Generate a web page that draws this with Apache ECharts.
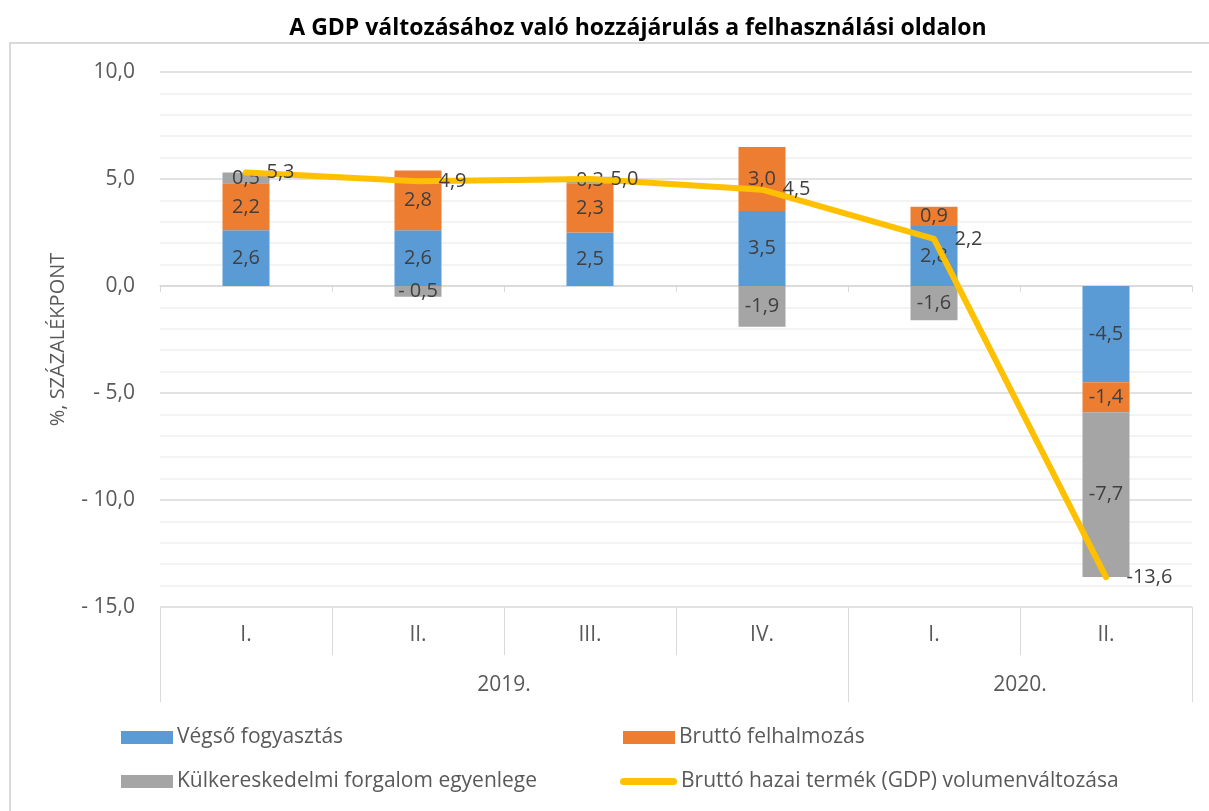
<!DOCTYPE html>
<html>
<head>
<meta charset="utf-8">
<script src="https://cdn.jsdelivr.net/npm/echarts@6/dist/echarts.min.js"></script>
<style>
  html, body { margin: 0; padding: 0; background: #fff; }
  #chart { width: 1209px; height: 811px; }
</style>
</head>
<body>
<div id="chart"></div>
<script>
// negyedévek és évek
const quarters = ['I.', 'II.', 'III.', 'IV.', 'I.', 'II.']
const years = ['2019.', '2020.']
const quartersPerYear = [4, 2]

// hozzájárulás, százalékpont
const vegsoFogyasztas = [2.6, 2.6, 2.5, 3.5, 2.8, -4.5]
const bruttoFelhalmozas = [2.2, 2.8, 2.3, 3.0, 0.9, -1.4]
const kulkereskedelem = [0.5, -0.5, 0.3, -1.9, -1.6, -7.7]
const gdp = [5.3, 4.9, 5.0, 4.5, 2.2, -13.6]

const seriesNames = [
  'Végső fogyasztás',
  'Bruttó felhalmozás',
  'Külkereskedelmi forgalom egyenlege',
  'Bruttó hazai termék (GDP) volumenváltozása'
]

const FONT = 'Open Sans'
const TXT = '#595959'
const LBL = '#404040'

function axisFmt(v) {
  const s = Math.abs(v).toFixed(1).replace('.', ',')
  return v < 0 ? '- ' + s : s
}
function barFmt(v) {
  const s = Math.abs(v).toFixed(1).replace('.', ',')
  if (v < 0) return (v > -1 ? '- ' : '-') + s
  return s
}

// év-határok és középpontok a negyedéves skálán
const yearBounds = [0]
const yearCenters = []
quartersPerYear.forEach(n => {
  const start = yearBounds[yearBounds.length - 1]
  yearCenters.push(start + n / 2)
  yearBounds.push(start + n)
})

const chart = echarts.init(document.getElementById('chart'))

const barLabel = {
  show: true,
  position: 'inside',
  color: LBL,
  fontFamily: FONT,
  fontSize: 20,
  formatter: p => barFmt(p.value)
}

function legendFor(name, left, top, icon, w, h) {
  return {
    left: left,
    top: top,
    padding: 0,
    itemWidth: w || 52,
    itemHeight: h || 13,
    data: [{ name: name, icon: icon }],
    textStyle: { color: TXT, fontFamily: FONT, fontSize: 21, padding: [0, 0, 0, -1] }
  }
}

chart.setOption({
  backgroundColor: '#fff',
  animation: false,
  title: {
    text: 'A GDP változásához való hozzájárulás a felhasználási oldalon',
    left: 633,
    textAlign: 'center',
    top: 12,
    textStyle: { fontFamily: FONT, fontWeight: 'bold', fontSize: 23, color: '#000' }
  },
  graphic: [{
    type: 'rect',
    shape: { x: 10, y: 43, width: 1300, height: 900 },
    style: { fill: 'none', stroke: '#d9d9d9', lineWidth: 2 },
    silent: true,
    z: -10
  }],
  legend: [
    legendFor(seriesNames[0], 121, 727, 'rect'),
    legendFor(seriesNames[1], 623, 727, 'rect'),
    legendFor(seriesNames[2], 121, 771, 'rect'),
    legendFor(seriesNames[3], 620, 771,
      'path://M3.5,0 L53.5,0 A3.5,3.5 0 0 1 53.5,7 L3.5,7 A3.5,3.5 0 0 1 3.5,0 Z', 57, 7)
  ],
  grid: {
    left: 160,
    right: 17,
    top: 72,
    bottom: 204
  },
  xAxis: [{
    type: 'category',
    data: quarters,
    axisLine: { onZero: true, lineStyle: { color: '#d9d9d9', width: 1.5 } },
    axisTick: { show: true, length: 6, lineStyle: { color: '#d9d9d9' } },
    axisLabel: { show: false }
  }, {
    type: 'category',
    data: quarters,
    position: 'bottom',
    axisLine: { show: false, onZero: false },
    axisTick: { show: true, length: 48, lineStyle: { color: '#d9d9d9' } },
    axisLabel: { margin: 18, color: TXT, fontFamily: FONT, fontSize: 21 }
  }, {
    type: 'value',
    min: 0,
    max: quarters.length,
    position: 'bottom',
    axisLine: { show: false, onZero: false },
    splitLine: { show: false },
    axisTick: { show: true, length: 95, customValues: yearBounds, lineStyle: { color: '#d9d9d9' } },
    axisLabel: {
      margin: 68,
      color: TXT,
      fontFamily: FONT,
      fontSize: 21,
      customValues: yearCenters,
      formatter: v => years[yearCenters.indexOf(v)] || ''
    }
  }],
  yAxis: {
    type: 'value',
    min: -15,
    max: 10,
    interval: 5,
    name: '%, SZÁZALÉKPONT',
    nameLocation: 'middle',
    nameGap: 92,
    nameTextStyle: { color: TXT, fontFamily: FONT, fontSize: 20 },
    axisLine: { show: false },
    axisTick: { show: false },
    axisLabel: { margin: 25, color: TXT, fontFamily: FONT, fontSize: 21, formatter: axisFmt },
    splitLine: { lineStyle: { color: '#d9d9d9', width: 1.5 } },
    minorTick: { show: false, splitNumber: 5 },
    minorSplitLine: { show: true, lineStyle: { color: '#efefef', width: 1.5 } }
  },
  series: [{
    name: seriesNames[0],
    type: 'bar',
    stack: 'total',
    barWidth: 47,
    itemStyle: { color: '#5b9bd5' },
    label: barLabel,
    data: vegsoFogyasztas
  }, {
    name: seriesNames[1],
    type: 'bar',
    stack: 'total',
    barWidth: 47,
    itemStyle: { color: '#ed7d31' },
    label: barLabel,
    data: bruttoFelhalmozas
  }, {
    name: seriesNames[2],
    type: 'bar',
    stack: 'total',
    barWidth: 47,
    itemStyle: { color: '#a5a5a5' },
    label: barLabel,
    data: kulkereskedelem
  }, {
    name: seriesNames[3],
    type: 'line',
    symbol: 'circle',
    symbolSize: 1,
    z: 5,
    itemStyle: { color: '#ffc000' },
    lineStyle: { color: '#ffc000', width: 6, cap: 'round', join: 'round' },
    label: {
      show: true,
      position: 'right',
      distance: 20,
      color: LBL,
      fontFamily: FONT,
      fontSize: 20,
      formatter: p => barFmt(p.value)
    },
    data: gdp
  }]
})
</script>
</body>
</html>
